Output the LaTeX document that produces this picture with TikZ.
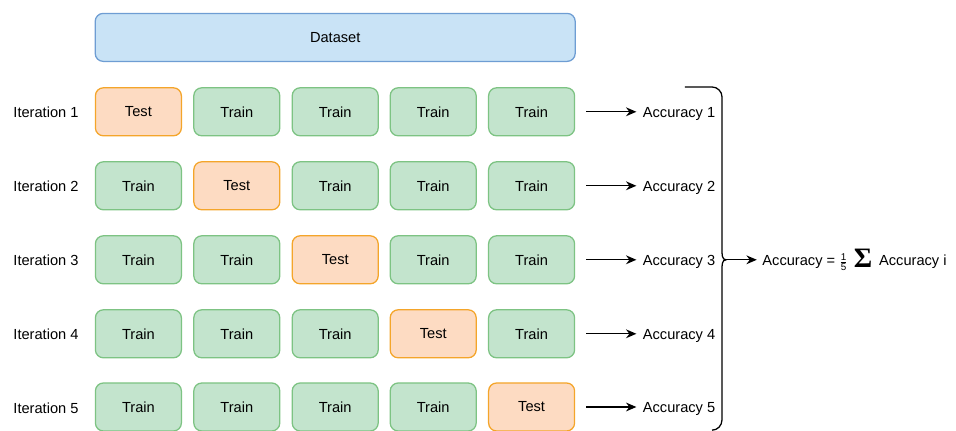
\documentclass[tikz,border=0pt]{standalone}
\usepackage{fontspec}
\setmainfont{Liberation Sans}
\newfontfamily\sumfont{Liberation Serif}
\usetikzlibrary{positioning}
\usetikzlibrary{arrows.meta}
\definecolor{trainfill}{HTML}{C3E4CD}
\definecolor{trainline}{HTML}{7DC383}
\definecolor{testfill}{HTML}{FDDBC2}
\definecolor{testline}{HTML}{F4A52A}
\definecolor{datafill}{HTML}{C9E3F6}
\definecolor{dataline}{HTML}{6E9DD3}
\tikzset{
    trainbox/.style = {rectangle, rounded corners=0.2cm, line width=0.9pt, draw=trainline, fill=trainfill, minimum width=2.15cm, minimum height=1.2cm, align=center, text=black},
    testbox/.style = {rectangle, rounded corners=0.2cm, line width=0.9pt, draw=testline, fill=testfill, minimum width=2.15cm, minimum height=1.2cm, align=center, text=black},
    databox/.style = {rectangle, rounded corners=0.2cm, line width=0.9pt, draw=dataline, fill=datafill, minimum width=12.0cm, minimum height=1.2cm, align=center, text=black},
    iterlabel/.style = {inner sep=1pt, text=black},
    acclabel/.style = {anchor=west, inner sep=1pt, text height=1.6ex, text depth=0.3ex, text=black},
    arrowk/.style = {-{Stealth[length=2.6mm,width=2.2mm]}, line width=0.9pt, black},
    bracel/.style = {line width=0.9pt, black},
    every picture/.style={font issue=\fontsize{10.4}{12}},
    font issue/.style={execute at begin picture={#1\selectfont}}
}
\begin{document}
\begin{tikzpicture}
\useasboundingbox (0,0) rectangle (23.9,10.775);
\node[databox] at ( 8.38,  9.84) (data) {Dataset};
% iteration 1
\node[iterlabel] at ( 1.15,  7.96) (it1) {Iteration 1};
\node[testbox]  at ( 3.46,  7.98) (b11) {Test};
\node[trainbox] at ( 5.92,  7.98) (b12) {Train};
\node[trainbox] at ( 8.38,  7.98) (b13) {Train};
\node[trainbox] at (10.83,  7.98) (b14) {Train};
\node[trainbox] at (13.29,  7.98) (b15) {Train};
\node[acclabel] at (16.03,  7.96) (acc1) {Accuracy 1};
% iteration 2
\node[iterlabel] at ( 1.15,  6.11) (it2) {Iteration 2};
\node[trainbox] at ( 3.46,  6.13) (b21) {Train};
\node[testbox]  at ( 5.92,  6.13) (b22) {Test};
\node[trainbox] at ( 8.38,  6.13) (b23) {Train};
\node[trainbox] at (10.83,  6.13) (b24) {Train};
\node[trainbox] at (13.29,  6.13) (b25) {Train};
\node[acclabel] at (16.03,  6.11) (acc2) {Accuracy 2};
% iteration 3
\node[iterlabel] at ( 1.15,  4.26) (it3) {Iteration 3};
\node[trainbox] at ( 3.46,  4.28) (b31) {Train};
\node[trainbox] at ( 5.92,  4.28) (b32) {Train};
\node[testbox]  at ( 8.38,  4.28) (b33) {Test};
\node[trainbox] at (10.83,  4.28) (b34) {Train};
\node[trainbox] at (13.29,  4.28) (b35) {Train};
\node[acclabel] at (16.03,  4.26) (acc3) {Accuracy 3};
% iteration 4
\node[iterlabel] at ( 1.15,  2.41) (it4) {Iteration 4};
\node[trainbox] at ( 3.46,  2.43) (b41) {Train};
\node[trainbox] at ( 5.92,  2.43) (b42) {Train};
\node[trainbox] at ( 8.38,  2.43) (b43) {Train};
\node[testbox]  at (10.83,  2.43) (b44) {Test};
\node[trainbox] at (13.29,  2.43) (b45) {Train};
\node[acclabel] at (16.03,  2.41) (acc4) {Accuracy 4};
% iteration 5
\node[iterlabel] at ( 1.15,  0.58) (it5) {Iteration 5};
\node[trainbox] at ( 3.46,  0.60) (b51) {Train};
\node[trainbox] at ( 5.92,  0.60) (b52) {Train};
\node[trainbox] at ( 8.38,  0.60) (b53) {Train};
\node[trainbox] at (10.83,  0.60) (b54) {Train};
\node[testbox]  at (13.29,  0.60) (b55) {Test};
\node[acclabel] at (16.03,  0.58) (acc5) {Accuracy 5};
% arrows to accuracies
\draw[arrowk, shorten <=0.27cm, shorten >=0.12cm] (b15.east) -- (b15.east -| acc1.west);
\draw[arrowk, shorten <=0.27cm, shorten >=0.12cm] (b25.east) -- (b25.east -| acc2.west);
\draw[arrowk, shorten <=0.27cm, shorten >=0.12cm] (b35.east) -- (b35.east -| acc3.west);
\draw[arrowk, shorten <=0.27cm, shorten >=0.12cm] (b45.east) -- (b45.east -| acc4.west);
\draw[arrowk, shorten <=0.27cm, shorten >=0.12cm] (b55.east) -- (b55.east -| acc5.west);
% brace
\coordinate (tip) at (18.15, 4.28);
\draw[bracel] (17.12, 8.60) -- (17.80, 8.60) to[out=0,in=90] (18.05, 8.35)
    -- (18.05, 4.53) to[out=-90,in=180] (tip) to[out=180,in=90] (18.05, 4.03)
    -- (18.05, 0.28) to[out=-90,in=0] (17.80, 0.02);
\node[acclabel] at (19.02, 4.26) (mean) {Accuracy = $\frac{\mbox{\scriptsize 1}}{\mbox{\scriptsize 5}}$\kern4pt\raisebox{-0.3ex}{\sumfont\bfseries\fontsize{20}{20}\selectfont Σ}\kern5pt Accuracy i};
\draw[arrowk, shorten >=0.1cm] (tip) -- (tip -| mean.west);
\end{tikzpicture}
\end{document}
